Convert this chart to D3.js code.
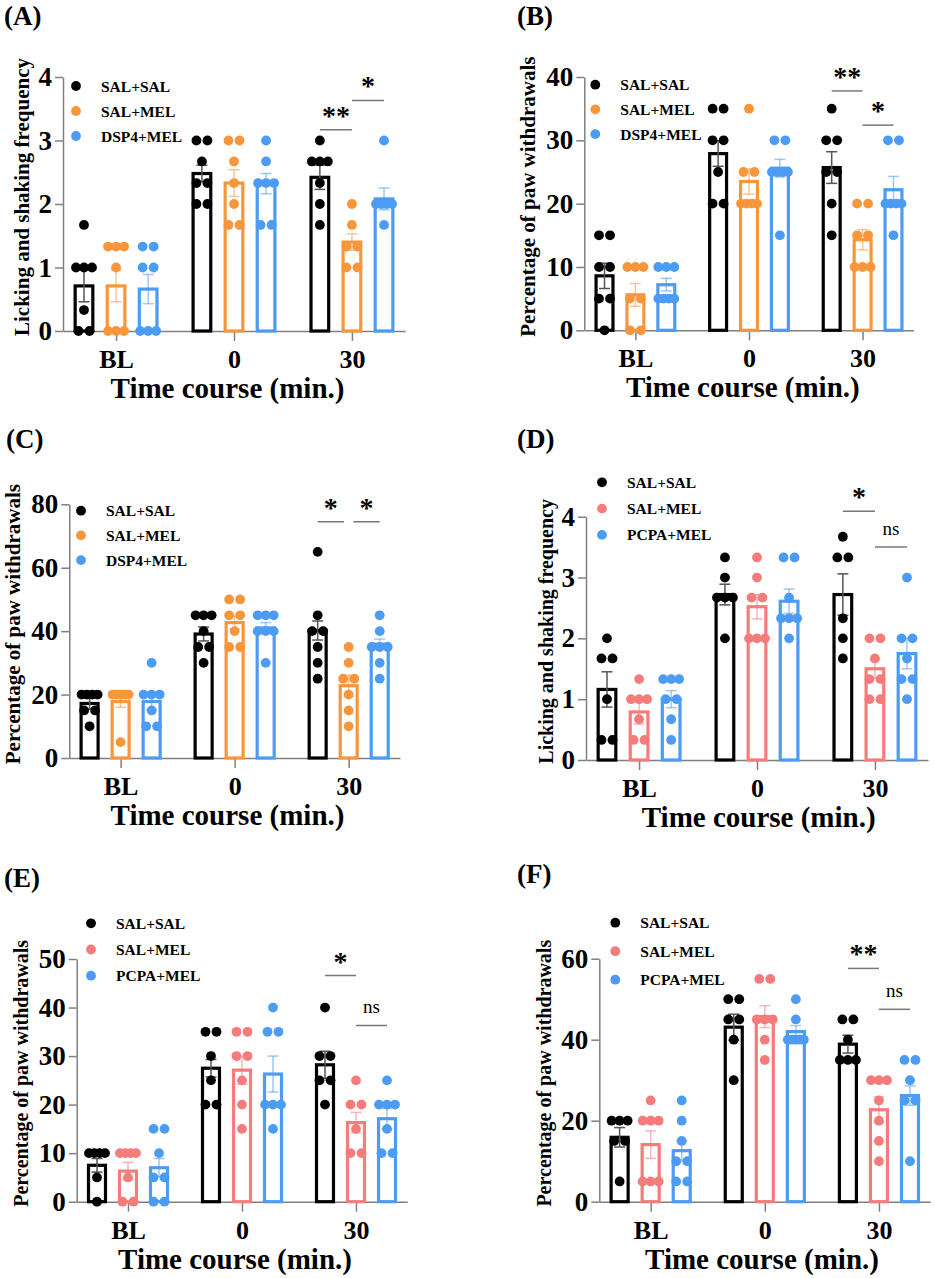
<!doctype html>
<html lang="en">
<head>
<meta charset="utf-8">
<title>Time course panels</title>
<script src="https://d3js.org/d3.v7.min.js"></script>
<style>
  body { margin: 0; background: #fff; }
  text { font-family: "Liberation Serif", "Times New Roman", serif; font-weight: bold; fill: #000; }
</style>
</head>
<body>
<svg width="935" height="1278"></svg>
<script>
// categories and series
var timePoints = ['BL', '0', '30'];
var groupsDSP4 = ['SAL+SAL', 'SAL+MEL', 'DSP4+MEL'];
var groupsPCPA = ['SAL+SAL', 'SAL+MEL', 'PCPA+MEL'];
var ticksFreq = [0, 1, 2, 3, 4];
var ticksB = [0, 10, 20, 30, 40];
var ticksC = [0, 20, 40, 60, 80];
var ticksE = [0, 10, 20, 30, 40, 50];
var ticksF = [0, 20, 40, 60];

// means / SEM, [time point][group]
var meanA = [[0.71, 0.71, 0.66], [2.48, 2.33, 2.32], [2.42, 1.40, 2.08]];
var semA  = [[0.25, 0.25, 0.23], [0.13, 0.21, 0.16], [0.19, 0.13, 0.17]];
var meanB = [[8.6, 5.6, 7.2], [27.9, 23.5, 25.6], [25.7, 14.3, 22.2]];
var semB  = [[2.0, 1.8, 1.0], [2.0, 2.0, 1.4], [2.5, 1.6, 2.1]];
var meanC = [[17.2, 17.8, 17.8], [39.1, 42.7, 41.0], [40.2, 22.8, 35.9]];
var semC  = [[1.8, 1.8, 2.6], [2.2, 2.0, 1.7], [3.0, 3.3, 1.6]];
var meanD = [[1.16, 0.79, 1.0], [2.72, 2.52, 2.61], [2.72, 1.50, 1.75]];
var semD  = [[0.29, 0.20, 0.14], [0.17, 0.20, 0.20], [0.34, 0.15, 0.25]];
var meanE = [[7.5, 6.3, 7.0], [27.5, 27.1, 26.3], [28.2, 16.3, 17.1]];
var semE  = [[1.4, 1.8, 1.9], [1.8, 2.9, 3.7], [2.8, 2.1, 2.1]];
var meanF = [[15.9, 14.1, 12.6], [43.1, 45.7, 42.0], [38.9, 22.7, 26.2]];
var semF  = [[2.4, 3.4, 2.4], [3.2, 2.7, 1.5], [2.2, 3.2, 2.4]];

// individual animals, [time point][group]
var dotsA = [
  [[1.67, 1, 1, 1, 0.33, 0, 0], [1.33, 1.33, 1.33, 1, 0, 0, 0], [1.33, 1.33, 1, 1, 0, 0, 0]],
  [[3, 3, 2.67, 2.33, 2.33, 2, 2], [3, 3, 2.67, 2.33, 2, 1.67, 1.67], [3, 2.67, 2.33, 2.33, 2.33, 1.67, 1.67]],
  [[3, 2.67, 2.67, 2.67, 2.33, 2, 1.67], [2, 1.67, 1.33, 1.33, 1, 1], [3, 2, 2, 2, 2, 1.67]]
];
var dotsB = [
  [[15, 15, 10, 10, 5, 5, 0], [10, 10, 10, 5, 5, 0, 0], [10, 10, 10, 5, 5, 5, 5]],
  [[35, 35, 30, 30, 25, 20, 20], [35, 25, 25, 20, 20, 20, 20], [30, 30, 25, 25, 25, 25, 15]],
  [[35, 30, 30, 25, 25, 20, 15], [20, 20, 15, 15, 10, 10, 10], [30, 30, 20, 20, 20, 20, 15]]
];
var dotsC = [
  [[20, 20, 20, 20, 15, 15, 10], [20, 20, 20, 20, 20, 20, 5], [30, 20, 20, 20, 15, 10, 10]],
  [[45, 45, 45, 40, 35, 35, 30], [50, 50, 45, 45, 40, 35, 35], [45, 45, 45, 40, 40, 40, 30]],
  [[65, 45, 40, 40, 35, 30, 25], [35, 30, 25, 25, 20, 15, 10], [45, 40, 35, 35, 35, 30, 25]]
];
var dotsD = [
  [[2, 1.67, 1.67, 1, 0.33, 0.33], [1.33, 1, 1, 1, 0.67, 0.33, 0.33], [1.33, 1.33, 1.33, 1, 1, 0.67, 0.33]],
  [[3.33, 3, 2.67, 2.67, 2.67, 2], [3.33, 3, 2.67, 2.67, 2, 2, 2], [3.33, 3.33, 2.67, 2.33, 2.33, 2.33, 2]],
  [[3.67, 3.33, 3.33, 2.33, 2, 1.67], [2, 2, 1.67, 1.33, 1.33, 1, 1], [3, 2, 2, 1.67, 1.33, 1.33, 1]]
];
var dotsE = [
  [[10, 10, 10, 10, 5, 0], [10, 10, 10, 10, 5, 0, 0], [15, 15, 10, 5, 5, 0, 0]],
  [[35, 35, 30, 25, 20, 20], [35, 35, 30, 30, 25, 20, 15], [40, 35, 35, 20, 20, 20, 15]],
  [[40, 30, 30, 25, 25, 20], [25, 20, 20, 15, 10, 10], [25, 20, 20, 20, 15, 10, 10]]
];
var dotsF = [
  [[20, 20, 20, 15, 15, 5], [25, 20, 20, 20, 5, 5, 5], [25, 20, 15, 10, 10, 5, 5]],
  [[50, 50, 45, 45, 40, 30], [55, 55, 45, 45, 45, 40, 35], [50, 45, 40, 40, 40, 40, 40]],
  [[45, 45, 40, 35, 35, 35], [30, 30, 30, 25, 20, 15, 10], [35, 35, 30, 25, 25, 10]]
];

// significance bars: [time point, from group, to group, height, label]
var sigA = [[2, 0, 1, 3.17, '**'], [2, 1, 2, 3.63, '*']];
var sigB = [[2, 0, 1, 37.8, '**'], [2, 1, 2, 32.4, '*']];
var sigC = [[2, 0, 1, 74.5, '*'], [2, 1, 2, 74.5, '*']];
var sigD = [[2, 0, 1, 4.09, '*'], [2, 1, 2, 3.5, 'ns']];
var sigE = [[2, 0, 1, 46.6, '*'], [2, 1, 2, 36.3, 'ns']];
var sigF = [[2, 0, 1, 57.6, '**'], [2, 1, 2, 47.5, 'ns']];

var colorsDSP4 = ['#000000', '#F7963A', '#4C9BF4'];
var colorsPCPA = ['#000000', '#F67B7B', '#4C9BF4'];
var freqTitle = 'Licking and shaking frequency';
var pctTitle = 'Percentage of paw withdrawals';

var panels = [
  {label: '(A)', lx: 4, ly: 25, x0: 63, x1: 405, yTop: 77, yBot: 331, ticks: ticksFreq,
   title: freqTitle, tfs: 21, tx: 29.3, xtx: 227.5, leg: [76, 86, 25], gap: 0,
   names: groupsDSP4, colors: colorsDSP4, mean: meanA, sem: semA, dots: dotsA, sig: sigA},
  {label: '(B)', lx: 517, ly: 25, x0: 584.3, x1: 913.7, yTop: 77, yBot: 330.3, ticks: ticksB,
   title: pctTitle, tfs: 21, tx: 535.3, xtx: 742.8, leg: [595.3, 84.7, 24.7], gap: 0,
   names: groupsDSP4, colors: colorsDSP4, mean: meanB, sem: semB, dots: dotsB, sig: sigB},
  {label: '(C)', lx: 6, ly: 448, x0: 69.3, x1: 400, yTop: 504.3, yBot: 758, ticks: ticksC,
   title: pctTitle, tfs: 21, tx: 20, xtx: 227.5, leg: [81, 510.7, 24.7], gap: 4.7,
   names: groupsDSP4, colors: colorsDSP4, mean: meanC, sem: semC, dots: dotsC, sig: sigC},
  {label: '(D)', lx: 517, ly: 448, x0: 586, x1: 928, yTop: 516.7, yBot: 760, ticks: ticksFreq,
   title: freqTitle, tfs: 20, tx: 552.7, xtx: 758.7, leg: [602, 482.3, 26.3], gap: 0,
   names: groupsPCPA, colors: colorsPCPA, mean: meanD, sem: semD, dots: dotsD, sig: sigD},
  {label: '(E)', lx: 4, ly: 887, x0: 76.7, x1: 407.3, yTop: 959, yBot: 1201.7, ticks: ticksE,
   title: pctTitle, tfs: 20, tx: 27.7, xtx: 235, leg: [91, 923.3, 26.2], gap: 0,
   names: groupsPCPA, colors: colorsPCPA, mean: meanE, sem: semE, dots: dotsE, sig: sigE},
  {label: '(F)', lx: 517, ly: 883, x0: 599.3, x1: 930.3, yTop: 958.7, yBot: 1201.7, ticks: ticksF,
   title: pctTitle, tfs: 20, tx: 551, xtx: 762, leg: [615.3, 922.7, 28.5], gap: 0,
   names: groupsPCPA, colors: colorsPCPA, mean: meanF, sem: semF, dots: dotsF, sig: sigF}
];

var svg = d3.select('svg');
var axisColor = '#808080';
var dotR = 4.9;

panels.forEach(function(p) {
  var g = svg.append('g');

  var x = d3.scalePoint().domain(timePoints).range([p.x0, p.x1]).padding(0.45);
  var step = x.step();
  var y = d3.scaleLinear().domain([0, d3.max(p.ticks)]).range([p.yBot, p.yTop]);
  var barW = 0.177 * step;
  var sw = 3.2;
  function bx(i, s) { return x(timePoints[i]) + (s - 1) * 0.272 * step; }

  // axes
  var ya = g.append('g').attr('transform', 'translate(' + p.x0 + ',0)')
    .call(d3.axisLeft(y).tickValues(p.ticks).tickFormat(d3.format('d'))
      .tickSize(8).tickSizeOuter(0).tickPadding(3));
  var xa = g.append('g').attr('transform', 'translate(0,' + p.yBot + ')')
    .call(d3.axisBottom(x).tickSize(10).tickSizeOuter(0).tickPadding(8.5));
  [ya, xa].forEach(function(a) {
    a.attr('font-family', null).attr('font-size', 26);
    a.selectAll('path, line').attr('stroke', axisColor).attr('stroke-width', 1.5);
  });
  ya.selectAll('text').attr('font-size', 27);

  // bars, error bars, dots
  timePoints.forEach(function(t, i) {
    p.names.forEach(function(n, s) {
      var cx = bx(i, s), col = p.colors[s];
      var m = p.mean[i][s], e = p.sem[i][s];
      g.append('rect')
        .attr('x', cx - barW / 2 + sw / 2).attr('width', barW - sw)
        .attr('y', y(m)).attr('height', y(0) - y(m))
        .attr('fill', '#fff').attr('stroke', col).attr('stroke-width', sw);
      var ec = s === 0 ? '#555' : col, eo = s === 0 ? 1 : 0.55;
      var eg = g.append('g').attr('stroke', ec).attr('stroke-opacity', eo).attr('stroke-width', 1.5);
      eg.append('line').attr('x1', cx).attr('x2', cx).attr('y1', y(m - e)).attr('y2', y(m + e));
      [m - e, m + e].forEach(function(v) {
        eg.append('line').attr('x1', cx - 5.5).attr('x2', cx + 5.5).attr('y1', y(v)).attr('y2', y(v));
      });
    });
  });
  timePoints.forEach(function(t, i) {
    p.names.forEach(function(n, s) {
      var cx = bx(i, s);
      var counts = d3.rollup(p.dots[i][s], function(v) { return v.length; }, function(d) { return d; });
      counts.forEach(function(c, v) {
        var sp = c === 1 ? 0 : Math.min(11, 16 / (c - 1));
        for (var k = 0; k < c; k++) {
          g.append('circle').attr('cx', cx + (k - (c - 1) / 2) * sp).attr('cy', y(v))
            .attr('r', dotR).attr('fill', p.colors[s]);
        }
      });
    });
  });

  // significance
  p.sig.forEach(function(sg) {
    var xa1 = bx(sg[0], sg[1]), xa2 = bx(sg[0], sg[2]);
    if (sg[1] === 1) xa1 += p.gap;
    if (sg[2] === 1) xa2 -= p.gap;
    var yy = y(sg[3]);
    g.append('line').attr('x1', xa1).attr('x2', xa2).attr('y1', yy).attr('y2', yy)
      .attr('stroke', '#777').attr('stroke-width', 1.5);
    var lab = g.append('text').attr('x', (xa1 + xa2) / 2).attr('text-anchor', 'middle').text(sg[4]);
    if (sg[4] === 'ns') {
      lab.attr('y', yy - 12).attr('font-size', 19).style('font-weight', 'normal');
    } else {
      lab.attr('y', yy - 5).attr('font-size', 28);
    }
  });

  // legend
  p.names.forEach(function(n, s) {
    var ly = p.leg[1] + s * p.leg[2];
    g.append('circle').attr('cx', p.leg[0]).attr('cy', ly).attr('r', dotR).attr('fill', p.colors[s]);
    g.append('text').attr('x', p.leg[0] + 25).attr('y', ly + 5.5).attr('font-size', 15.5).text(n);
  });

  // titles
  g.append('text').attr('transform', 'translate(' + p.tx + ',' + ((p.yTop + p.yBot) / 2 - 7) + ') rotate(-90)')
    .attr('text-anchor', 'middle').attr('font-size', p.tfs).text(p.title);
  g.append('text').attr('x', p.xtx).attr('y', p.yBot + 67).attr('text-anchor', 'middle')
    .attr('font-size', 29).text('Time course (min.)');
  g.append('text').attr('x', p.lx).attr('y', p.ly).attr('font-size', 27).text(p.label);
});
</script>
</body>
</html>
